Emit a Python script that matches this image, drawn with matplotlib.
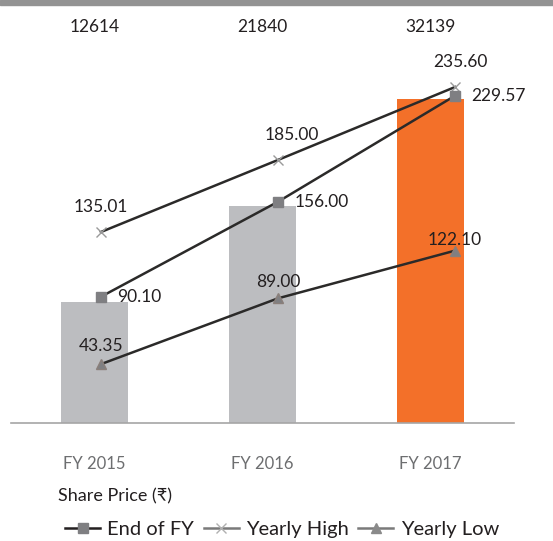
import matplotlib
matplotlib.use("Agg")
import matplotlib.pyplot as plt
import matplotlib.transforms as mtransforms
from matplotlib.lines import Line2D
from matplotlib.patches import Rectangle

# data
years = ["FY 2015", "FY 2016", "FY 2017"]
mcap = [12614, 21840, 32139]
end_fy = [90.10, 156.00, 229.57]
yr_high = [135.01, 185.00, 235.60]
yr_low = [43.35, 89.00, 122.10]
bar_colors = ["#bcbdc0", "#bcbdc0", "#f37029"]

FONT = ["Lato", "DejaVu Sans"]
plt.rcParams["font.family"] = FONT
W, H = 553, 541
fig = plt.figure(figsize=(W / 100, H / 100), dpi=100)
fig.patches.append(Rectangle((0, 1 - 5 / H), 1, 5 / H, transform=fig.transFigure,
                             color="#939393", zorder=0))

rect = [11 / W, (H - 423) / H, 503 / W, 418 / H]
ax = fig.add_axes(rect)
x = list(range(len(years)))
ax.bar(x, mcap, width=0.4, color=bar_colors, zorder=2)
ax.set_xlim(-0.497, 2.497)
ax.set_ylim(960, 41152)
for s in ["top", "right", "left"]:
    ax.spines[s].set_visible(False)
ax.spines["bottom"].set_color("#a6a6a6")
ax.spines["bottom"].set_linewidth(1.2)
ax.set_yticks([])
ax.set_xticks(x)
ax.set_xticklabels(years, fontsize=12, color="#6d6e70")
ax.tick_params(axis="x", length=0, pad=24)

tr = mtransforms.blended_transform_factory(ax.transData, fig.transFigure)
for xi, v in zip(x, mcap):
    ax.text(xi, 1 - 27 / H, f"{v}", transform=tr, ha="center", va="center",
            fontsize=12.5, color="#231f20")

# share price lines on overlaid axis
ax2 = fig.add_axes(rect)
ax2.patch.set_visible(False)
ax2.axis("off")
ax2.set_xlim(-0.508, 2.333)
ax2.set_ylim(2.51, 292.5)
lc = "#2b2a29"
ax2.plot(x, yr_high, color=lc, lw=1.8, marker="x", ms=7, mec="#9a9a9a", mew=1.0, zorder=3)
ax2.plot(x, end_fy, color=lc, lw=1.8, marker="s", ms=7, mfc="#7f7f82", mec="#7f7f82", zorder=3)
ax2.plot(x, yr_low, color=lc, lw=1.8, marker="^", ms=7, mfc="#7f7f82", mec="#8a7f7a", zorder=3)

hi_off = [(0, 18), (10, 18), (4, 18)]
for xi, v, o in zip(x, yr_high, hi_off):
    ax2.annotate(f"{v:.2f}", (xi, v), xytext=o, textcoords="offset points",
                 ha="center", va="center", fontsize=12.5, color="#231f20")
for xi, v in zip(x, end_fy):
    ax2.annotate(f"{v:.2f}", (xi, v), xytext=(12, 0), textcoords="offset points",
                 ha="left", va="center", fontsize=12.5, color="#231f20")
lo_off = [(0, 13), (0, 12), (0, 8)]
for xi, v, o in zip(x, yr_low, lo_off):
    ax2.annotate(f"{v:.2f}", (xi, v), xytext=o, textcoords="offset points",
                 ha="center", va="center", fontsize=12.5, color="#231f20")

# legend
fig.text(58 / W, 1 - 496 / H, "Share Price (\u20b9)", ha="left", va="center",
         fontsize=13, color="#231f20")
handles = [
    Line2D([], [], color="#231f20", lw=1.8, marker="s", ms=7, mfc="#7f7f82", mec="#7f7f82"),
    Line2D([], [], color="#7a7a7a", lw=1.8, marker="x", ms=7, mec="#b0b0b0", mew=1.0),
    Line2D([], [], color="#7a7a7a", lw=1.8, marker="^", ms=7, mfc="#8a8a8a", mec="#8a8a8a"),
]
leg = fig.legend(handles, ["End of FY", "Yearly High", "Yearly Low"],
                 loc="center left", bbox_to_anchor=(65 / W, 1 - 529 / H), ncol=3,
                 frameon=False, fontsize=14.5, handlelength=1.75,
                 handletextpad=0.36, columnspacing=0.46,
                 borderaxespad=0, borderpad=0)
for t in leg.get_texts():
    t.set_color("#231f20")

fig.savefig("out.png", dpi=100)
